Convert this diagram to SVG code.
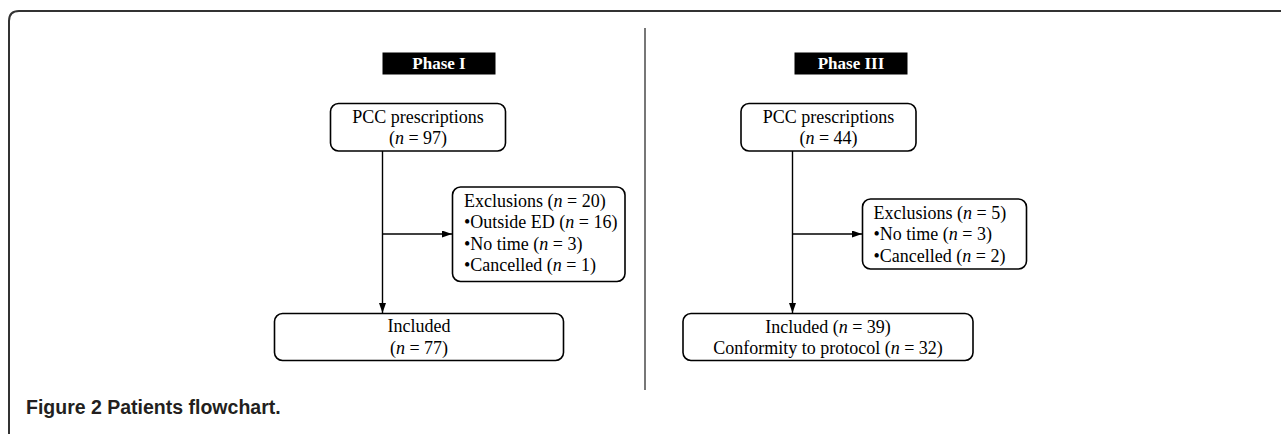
<svg xmlns="http://www.w3.org/2000/svg" width="1281" height="434" viewBox="0 0 1281 434">
<style>
.frame{fill:none;stroke:#333;stroke-width:2}
.div{stroke:#777;stroke-width:2}
.box{fill:#fff;stroke:#000;stroke-width:1.6}
.lab{fill:#000}
.lt{font-family:"Liberation Serif",serif;font-size:17px;font-weight:bold;fill:#fff;text-anchor:middle}
.t{font-family:"Liberation Serif",serif;font-size:18px;fill:#000}
.c{text-anchor:middle}
.i{font-style:italic}
.ln{fill:none;stroke:#000;stroke-width:1.4}
.cap{font-family:"Liberation Sans",Arial,sans-serif;font-size:19.5px;font-weight:bold;fill:#231f20}
</style>
<defs>
<marker id="ah" viewBox="0 0 10 7" refX="10" refY="3.5" markerWidth="10" markerHeight="7" markerUnits="userSpaceOnUse" orient="auto">
<path d="M0,0 L10,3.5 L0,7 Z" fill="#000"/>
</marker>
</defs>
<rect width="1281" height="434" fill="#fff"/>
<path class="frame" d="M9,440 L9,21 Q9,11 19,11 L1290,11"/>
<line class="div" x1="645" y1="28" x2="645" y2="390"/>

<g id="phase1">
<rect class="lab" x="382.5" y="52.5" width="113" height="22"/>
<text class="lt" x="439" y="69">Phase I</text>
</g>
<g id="pcc1">
<rect class="box" x="330.5" y="103.5" width="175" height="47.5" rx="8"/>
<text class="t c" x="418" y="122.5">PCC prescriptions</text>
<text class="t c" x="418" y="144">(<tspan class="i">n</tspan> = 97)</text>
</g>
<g id="excl1">
<rect class="box" x="452.5" y="187" width="172.5" height="94.5" rx="8"/>
<text class="t" x="464" y="206.5">Exclusions (<tspan class="i">n</tspan> = 20)</text>
<text class="t" x="464" y="228">•Outside ED (<tspan class="i">n</tspan> = 16)</text>
<text class="t" x="464" y="249.5">•No time (<tspan class="i">n</tspan> = 3)</text>
<text class="t" x="464" y="271">•Cancelled (<tspan class="i">n</tspan> = 1)</text>
</g>
<g id="incl1">
<rect class="box" x="274.5" y="313.5" width="289" height="47" rx="8"/>
<text class="t c" x="419" y="332">Included</text>
<text class="t c" x="419" y="353.5">(<tspan class="i">n</tspan> = 77)</text>
</g>

<g id="phase3">
<rect class="lab" x="794.5" y="52.5" width="113" height="22"/>
<text class="lt" x="851" y="69">Phase III</text>
</g>
<g id="pcc3">
<rect class="box" x="741" y="103.5" width="175" height="47.5" rx="8"/>
<text class="t c" x="828.5" y="122.5">PCC prescriptions</text>
<text class="t c" x="828.5" y="144">(<tspan class="i">n</tspan> = 44)</text>
</g>
<g id="excl3">
<rect class="box" x="862.5" y="199" width="164" height="70" rx="8"/>
<text class="t" x="873.5" y="218.5">Exclusions (<tspan class="i">n</tspan> = 5)</text>
<text class="t" x="873.5" y="240">•No time (<tspan class="i">n</tspan> = 3)</text>
<text class="t" x="873.5" y="261.5">•Cancelled (<tspan class="i">n</tspan> = 2)</text>
</g>
<g id="incl3">
<rect class="box" x="683" y="313.5" width="290" height="47" rx="8"/>
<text class="t c" x="828" y="332.5">Included (<tspan class="i">n</tspan> = 39)</text>
<text class="t c" x="828" y="353.5">Conformity to protocol (<tspan class="i">n</tspan> = 32)</text>
</g>

<g id="connectors">
<line class="ln" x1="382.5" y1="151" x2="382.5" y2="313" marker-end="url(#ah)"/>
<line class="ln" x1="382.5" y1="234" x2="452" y2="234" marker-end="url(#ah)"/>
<line class="ln" x1="792.5" y1="151" x2="792.5" y2="313" marker-end="url(#ah)"/>
<line class="ln" x1="792.5" y1="234" x2="862" y2="234" marker-end="url(#ah)"/>
</g>

<text class="cap" x="26" y="414">Figure 2 Patients flowchart.</text>
</svg>
